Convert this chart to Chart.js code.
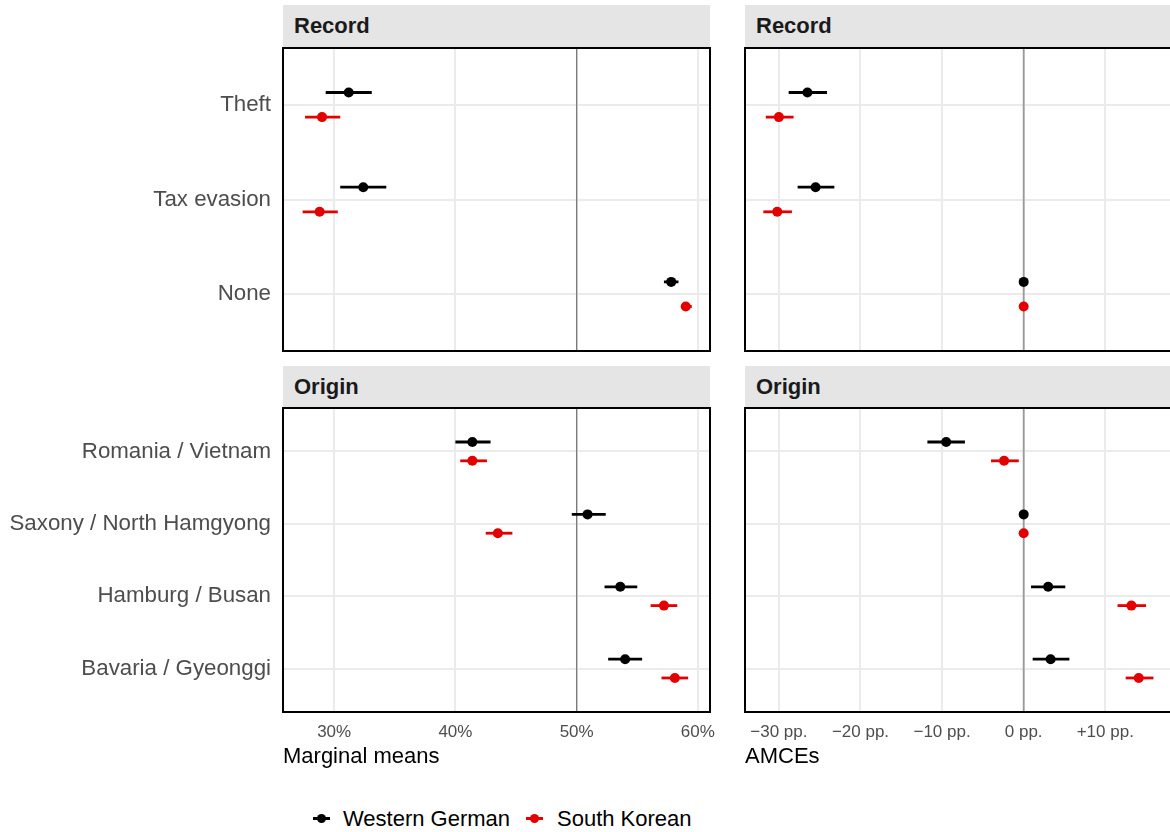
<!DOCTYPE html>
<html>
<head>
<meta charset="utf-8">
<script src="https://cdn.jsdelivr.net/npm/chart.js@4.4.0/dist/chart.umd.min.js"></script>
<style>
body { margin: 0; background: #fff; width: 1170px; height: 832px; overflow: hidden; position: relative; font-family: "Liberation Sans", Arial, sans-serif; }
canvas { position: absolute; }
.strip { position: absolute; background: #e5e5e5; color: #1a1a1a; font-weight: bold; font-size: 22px; line-height: 42px; padding-left: 11px; box-sizing: border-box; }
.key { position: absolute; top: 817px; width: 17px; height: 3px; }
.key::after { content: ""; position: absolute; left: 4px; top: -3px; width: 9px; height: 9px; border-radius: 50%; background: inherit; }
.ltext { position: absolute; top: 807px; font-size: 22px; line-height: 24px; color: #000; }
</style>
</head>
<body>

<div class="strip" style="left:283px; top:5px; width:427px; height:42px;">Record</div>
<div class="strip" style="left:745px; top:5px; width:425px; height:42px;">Record</div>
<div class="strip" style="left:283px; top:366px; width:427px; height:42px;">Origin</div>
<div class="strip" style="left:745px; top:366px; width:425px; height:42px;">Origin</div>

<canvas id="mmRecord" width="730" height="308" style="left:0; top:45px;"></canvas>
<canvas id="amceRecord" width="430" height="308" style="left:740px; top:45px;"></canvas>
<canvas id="mmOrigin" width="730" height="372" style="left:0; top:405px;"></canvas>
<canvas id="amceOrigin" width="430" height="372" style="left:740px; top:405px;"></canvas>

<span class="key" style="left:313px; background:#000;"></span>
<span class="ltext" style="left:343px;">Western German</span>
<span class="key" style="left:526px; background:#e30000;"></span>
<span class="ltext" style="left:557px;">South Korean</span>

<script>
// --- DATA ---
const recordCats = ['Theft', 'Tax evasion', 'None'];
const originCats = ['Romania / Vietnam', 'Saxony / North Hamgyong', 'Hamburg / Busan', 'Bavaria / Gyeonggi'];
const groups = ['Western German', 'South Korean'];
const groupColors = ['#000000', '#e30000'];

// each row: [estimate, lower, upper]  (null bounds = reference level)
// marginal means, in %
const mmRecordWG = [[31.2, 29.3, 33.1], [32.4, 30.5, 34.3], [57.8, 57.2, 58.4]];
const mmRecordSK = [[29.0, 27.6, 30.5], [28.8, 27.4, 30.3], [59.0, 58.6, 59.5]];
const mmOriginWG = [[41.4, 40.0, 42.9], [50.9, 49.6, 52.4], [53.6, 52.3, 55.0], [54.0, 52.6, 55.4]];
const mmOriginSK = [[41.4, 40.4, 42.6], [43.5, 42.5, 44.7], [57.2, 56.1, 58.3], [58.1, 57.0, 59.2]];
// AMCEs, in percentage points
const amceRecordWG = [[-26.5, -28.8, -24.1], [-25.5, -27.7, -23.2], [0, null, null]];
const amceRecordSK = [[-30.0, -31.6, -28.2], [-30.2, -31.9, -28.4], [0, null, null]];
const amceOriginWG = [[-9.5, -11.8, -7.2], [0, null, null], [3.0, 0.9, 5.1], [3.3, 1.1, 5.6]];
const amceOriginSK = [[-2.4, -4.0, -0.6], [0, null, null], [13.2, 11.5, 15.0], [14.1, 12.5, 15.9]];

const mmTicks = [30, 40, 50, 60];
const amceTicks = [-30, -20, -10, 0, 10];

// --- CONFIG ---
Chart.defaults.font.family = '"Liberation Sans", Arial, sans-serif';
const dodge = 0.13;

// panel frame (ggplot panel.border)
const framePlugin = {
    id: 'frame',
    afterDraw(chart, args, opts) {
        const { ctx, chartArea: a } = chart;
        ctx.save();
        ctx.strokeStyle = '#000';
        ctx.lineWidth = 2;
        ctx.beginPath();
        if (opts.openRight) {
            ctx.moveTo(a.right + 2, a.top);
            ctx.lineTo(a.left, a.top);
            ctx.lineTo(a.left, a.bottom);
            ctx.lineTo(a.right + 2, a.bottom);
        } else {
            ctx.rect(a.left, a.top, a.right - a.left, a.bottom - a.top);
        }
        ctx.stroke();
        ctx.restore();
    }
};

function makePanel(id, cats, series, o) {
    const datasets = [];
    series.forEach((rows, g) => {
        const off = g === 0 ? -dodge : dodge;
        rows.forEach((r, i) => {
            if (r[1] === null) return;
            datasets.push({
                data: [{ x: r[1], y: i + 1 + off }, { x: r[2], y: i + 1 + off }],
                showLine: true, borderColor: groupColors[g], borderWidth: 2.8,
                pointRadius: 0, order: 2
            });
        });
        datasets.push({
            label: groups[g],
            data: rows.map((r, i) => ({ x: r[0], y: i + 1 + off })),
            backgroundColor: groupColors[g], borderWidth: 0,
            pointRadius: 5, order: 1
        });
    });
    // reference line
    datasets.push({
        data: [{ x: o.ref, y: 0.4 }, { x: o.ref, y: cats.length + 0.6 }],
        showLine: true, borderColor: o.refColor, borderWidth: o.refWidth,
        pointRadius: 0, order: 3
    });

    return new Chart(document.getElementById(id), {
        type: 'scatter',
        data: { datasets: datasets },
        options: {
            responsive: false,
            animation: false,
            events: [],
            layout: { padding: o.padding, autoPadding: false },
            plugins: { legend: { display: false }, tooltip: { enabled: false }, frame: { openRight: o.openRight } },
            scales: {
                x: {
                    type: 'linear', min: o.xMin, max: o.xMax,
                    afterBuildTicks: s => { s.ticks = o.ticks.map(v => ({ value: v })); },
                    afterFit: s => { s.height = o.xHeight; s.paddingLeft = 0; s.paddingRight = 0; },
                    ticks: { display: o.showX, callback: o.fmt, color: '#4d4d4d', font: { size: 17 }, padding: 10, maxRotation: 0 },
                    grid: { color: '#ebebeb', lineWidth: 2, drawTicks: false },
                    border: { display: false },
                    title: { display: !!o.title, text: o.title, align: 'start', color: '#000', font: { size: 22 }, padding: 0 }
                },
                y: {
                    type: 'linear', reverse: true, min: 0.4, max: cats.length + 0.6,
                    afterBuildTicks: s => { s.ticks = cats.map((c, i) => ({ value: i + 1 })); },
                    afterFit: s => { s.width = o.yWidth; s.paddingTop = 0; s.paddingBottom = 0; },
                    ticks: { display: o.showY, callback: v => cats[v - 1], color: '#4d4d4d', font: { size: 22.3 }, padding: 12 },
                    grid: { color: '#ebebeb', lineWidth: 2, drawTicks: false },
                    border: { display: false }
                }
            }
        },
        plugins: [framePlugin]
    });
}

const fmtPct = v => v + '%';
const fmtPP = v => v === 0 ? '0 pp.' : (v > 0 ? '+' : '\u2212') + Math.abs(v) + ' pp.';

makePanel('mmRecord', recordCats, [mmRecordWG, mmRecordSK], {
    ref: 50, refColor: '#7a7a7a', refWidth: 1.3, xMin: 25.78, xMax: 61.0, ticks: mmTicks, fmt: fmtPct,
    padding: { top: 3, right: 20, bottom: 0, left: 0 }, yWidth: 283, xHeight: 2, showX: false, showY: true
});
makePanel('amceRecord', recordCats, [amceRecordWG, amceRecordSK], {
    ref: 0, refColor: '#9a9a9a', refWidth: 1.8, xMin: -34.15, xMax: 17.93, ticks: amceTicks, fmt: fmtPP,
    padding: { top: 3, right: 0, bottom: 0, left: 0 }, yWidth: 5, xHeight: 2, showX: false, showY: false, openRight: true
});
makePanel('mmOrigin', originCats, [mmOriginWG, mmOriginSK], {
    ref: 50, refColor: '#7a7a7a', refWidth: 1.3, xMin: 25.78, xMax: 61.0, ticks: mmTicks, fmt: fmtPct,
    padding: { top: 3, right: 20, bottom: 7, left: 0 }, yWidth: 283, xHeight: 58, showX: true, showY: true,
    title: 'Marginal means'
});
makePanel('amceOrigin', originCats, [amceOriginWG, amceOriginSK], {
    ref: 0, refColor: '#9a9a9a', refWidth: 1.8, xMin: -34.15, xMax: 17.93, ticks: amceTicks, fmt: fmtPP,
    padding: { top: 3, right: 0, bottom: 7, left: 0 }, yWidth: 5, xHeight: 58, showX: true, showY: false, openRight: true,
    title: 'AMCEs'
});
</script>
</body>
</html>
